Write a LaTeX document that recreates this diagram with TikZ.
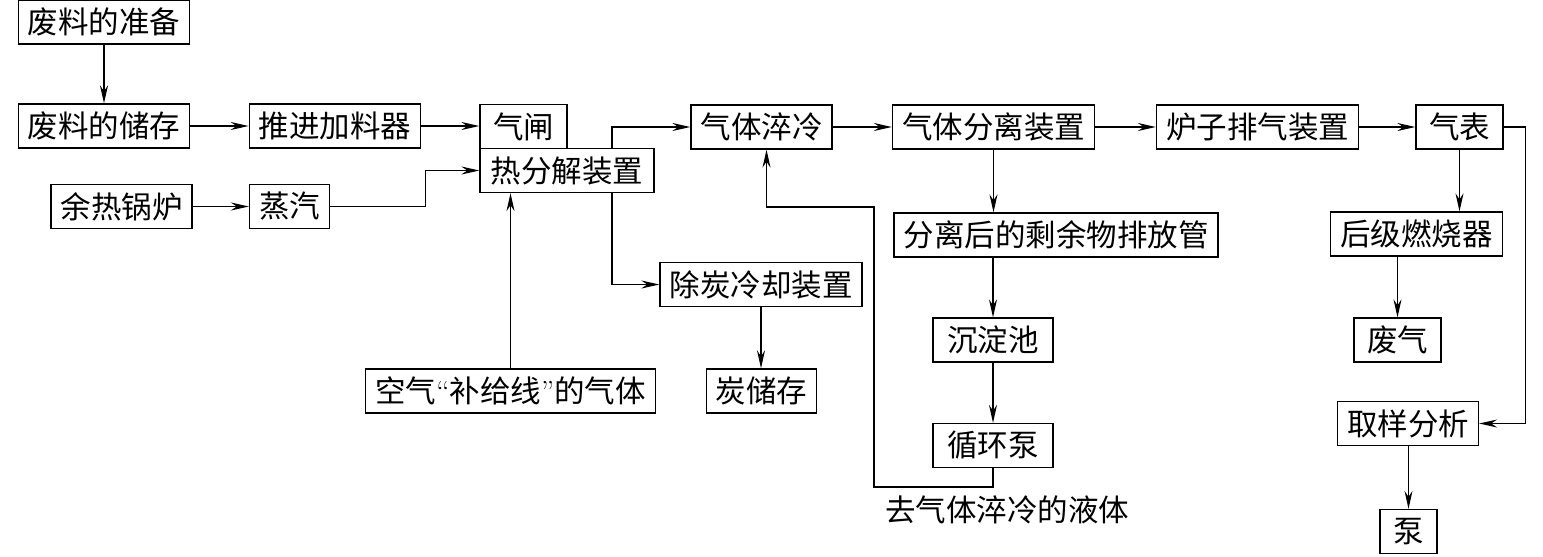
\documentclass[tikz,border=0pt]{standalone}
\usepackage{fontspec}
\newfontfamily\cjk{Noto Sans CJK SC}
\usetikzlibrary{arrows.meta}

\begin{document}
\begin{tikzpicture}[x=1pt, y=-1pt, line width=1.3pt,
    box/.style={draw, font=\cjk\fontsize{30.5}{31}\selectfont, minimum height=44pt, inner xsep=9.5pt, inner ysep=2pt},
    arr/.style={-{Stealth[length=18pt, width=8pt, inset=6pt]}}]
    \useasboundingbox (0,0) rectangle (1543,557);
    \node[box] (prep) at (104,22) {废料的准备};
    \node[box] (store) at (104,126) {废料的储存};
    \node[box] (feeder) at (335,126) {推进加料器};
    \node[box, minimum width=87pt] (lock) at (523.5,126.5) {气闸};
    \node[box, minimum width=174pt] (pyro) at (567,170.5) {热分解装置};
    \node[box] (quench) at (761.5,127) {气体淬冷};
    \node[box] (sep) at (993.5,127) {气体分离装置};
    \node[box] (exhaust) at (1257.5,127) {炉子排气装置};
    \node[box, minimum width=87pt] (meter) at (1459.5,127) {气表};
    \node[box] (boiler) at (121.5,206.5) {余热锅炉};
    \node[box] (steam) at (289.5,206.5) {蒸汽};
    \node[box] (residue) at (1056,235) {分离后的剩余物排放管};
    \node[box] (burner) at (1416.5,234) {后级燃烧器};
    \node[box] (cooler) at (761,284.5) {除炭冷却装置};
    \node[box, minimum width=120pt] (settle) at (993,340) {沉淀池};
    \node[box, minimum width=87pt] (waste) at (1397.5,340) {废气};
    \node[box] (air) at (510.5,391) {空气{\normalfont\fontsize{30.5}{31}\selectfont“}补给线{\normalfont\fontsize{30.5}{31}\selectfont”}的气体};
    \node[box] (charstore) at (761.5,391) {炭储存};
    \node[box, minimum width=120pt] (pump) at (993,445.5) {循环泵};
    \node[box] (sample) at (1408,423.5) {取样分析};
    \node[box, minimum width=57pt] (pump2) at (1408.5,531.5) {泵};
    \node[font=\cjk\fontsize{30.5}{31}\selectfont] (liquid) at (1007,510) {去气体淬冷的液体};
    \coordinate (loopA) at (874,487);
    \coordinate (loopB) at (874,207);
    \draw[arr] (prep) -- (store);
    \draw[arr] (store) -- (feeder);
    \draw[arr] (feeder) -- (lock.west |- feeder);
    \draw[arr] (boiler) -- (steam);
    \draw[arr] (steam.east) -- ++(95,0) |- (pyro.west);
    \draw[arr] ([xshift=45pt]pyro.north) |- (quench.west);
    \draw[arr] ([xshift=45pt]pyro.south) |- (cooler.west);
    \draw[arr] (air.north) -- (air.north |- pyro.south);
    \draw[arr] (cooler.south) -- (cooler.south |- charstore.north);
    \draw[arr] (quench) -- (sep);
    \draw[arr] (sep) -- (exhaust);
    \draw[arr] (exhaust) -- (meter);
    \draw[arr] (sep.south) -- (sep.south |- residue.north);
    \draw[arr] (residue.south -| settle.north) -- (settle.north);
    \draw[arr] (settle) -- (pump);
    \draw[arr] (pump.south) |- (loopA) -- (loopB) -| ([xshift=5pt]quench.south);
    \draw[arr] (meter.south) -- (meter.south |- burner.north);
    \draw[arr] (burner.south -| waste.north) -- (waste.north);
    \draw[arr] (meter.east) -- ++(22,0) |- (sample.east);
    \draw[arr] (sample.south -| pump2.north) -- (pump2.north);
\end{tikzpicture}
\end{document}
